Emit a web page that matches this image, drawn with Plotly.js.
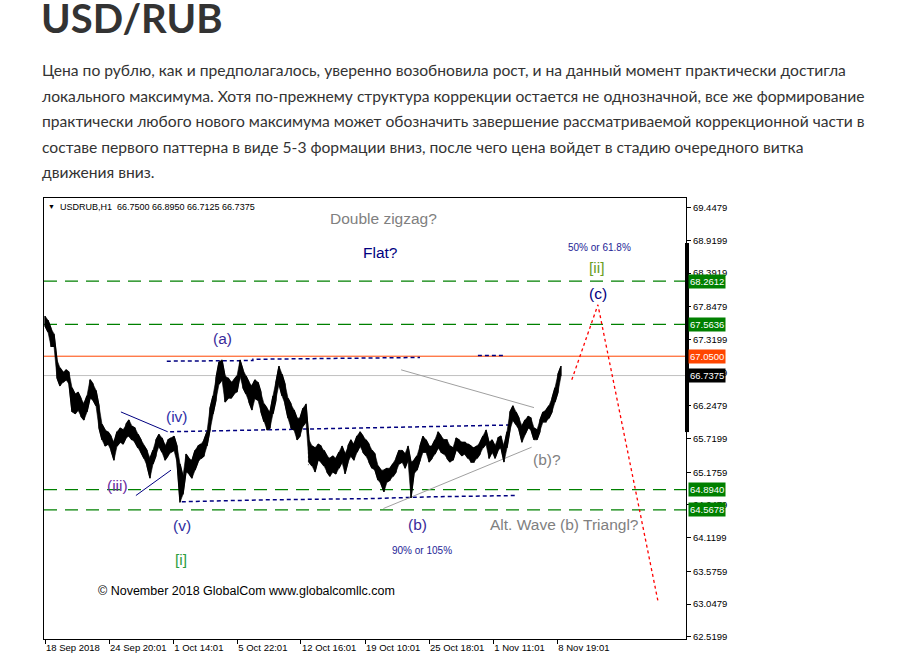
<!DOCTYPE html>
<html>
<head>
<meta charset="utf-8">
<script src="https://cdn.plot.ly/plotly-3.0.1.min.js"></script>
<style>
  html, body { margin:0; padding:0; background:#fff; width:916px; height:659px; overflow:hidden; }
  #chart { position:absolute; left:0; top:0; width:916px; height:659px; }
  #title { position:absolute; left:41px; top:0px; font-family:Lato, 'Open Sans', sans-serif; font-weight:700; font-size:40px; line-height:36px; color:#333; white-space:nowrap; }
  #para { position:absolute; left:42px; top:58px; font-family:Lato, 'Open Sans', sans-serif; font-size:15.65px; line-height:25.5px; color:#333; white-space:nowrap; }
</style>
</head>
<body>
<div id="chart"></div>
<div id="title">USD/RUB</div>
<div id="para">Цена по рублю, как и предполагалось, уверенно возобновила рост, и на данный момент практически достигла<br>локального максимума. Хотя по-прежнему структура коррекции остается не однозначной, все же формирование<br>практически любого нового максимума может обозначить завершение рассматриваемой коррекционной части в<br>составе первого паттерна в виде 5-3 формации вниз, после чего цена войдет в стадию очередного витка<br>движения вниз.</div>
<script>
// ---- data ----
const xTickLabels = ['18 Sep 2018','24 Sep 20:01','1 Oct 14:01','5 Oct 22:01','12 Oct 16:01','19 Oct 10:01','25 Oct 18:01','1 Nov 11:01','8 Nov 19:01'];
const xTickBars = [0, 21.35, 42.77, 64.1, 85.33, 106.67, 128, 149.43, 170.77];
const yTickValues = [69.4479, 68.9199, 68.3919, 67.8479, 67.3199, 66.7919, 66.2479, 65.7199, 65.1759, 64.6479, 64.1199, 63.5759, 63.0479, 62.5199];

const barHigh = [67.70,67.63,67.50,67.41,66.99,66.86,66.79,66.83,66.79,66.54,66.44,66.47,66.37,66.28,66.41,66.67,66.60,66.50,66.25,65.95,
65.86,65.83,65.76,65.66,65.83,65.89,65.86,65.95,66.02,65.92,65.89,65.79,65.70,65.60,65.53,65.40,65.53,65.70,65.79,65.73,
65.60,65.70,65.73,65.76,65.60,65.31,65.11,65.47,65.40,65.37,65.53,65.60,65.63,65.70,65.83,66.21,66.41,66.70,66.96,66.99,
66.73,66.70,66.63,66.67,66.73,66.99,66.83,66.73,66.63,66.57,66.67,66.63,66.47,66.28,66.21,66.15,66.41,66.63,66.89,66.76,
66.60,66.37,66.28,66.18,66.05,66.05,66.21,66.28,65.70,65.60,65.57,65.63,65.60,65.53,65.44,65.40,65.44,65.40,65.50,65.60,
65.47,65.60,65.70,65.63,65.76,65.83,65.76,65.70,65.63,65.53,65.47,65.28,65.21,65.21,65.24,65.24,65.31,65.40,65.53,65.53,
65.47,65.60,65.34,65.37,65.44,65.60,65.76,65.70,65.60,65.60,65.70,65.83,65.76,65.70,65.70,65.60,65.57,65.73,65.70,65.66,
65.66,65.63,65.60,65.57,65.60,65.66,65.76,65.86,65.66,65.70,65.60,65.73,65.76,65.60,65.83,66.15,66.25,66.15,66.05,65.92,
66.02,66.08,66.05,65.89,65.86,66.02,66.15,66.18,66.25,66.37,66.54,66.76,66.89];
const barLow = [67.54,67.44,67.21,67.21,66.70,66.57,66.63,66.67,66.60,66.15,66.12,66.18,66.08,66.02,66.15,66.37,66.34,66.25,65.89,65.70,
65.60,65.63,65.53,65.37,65.60,65.66,65.63,65.73,65.76,65.70,65.66,65.57,65.50,65.40,65.28,65.08,65.31,65.44,65.60,65.50,
65.37,65.44,65.50,65.53,65.34,64.69,64.82,65.18,65.15,65.08,65.21,65.34,65.40,65.44,65.60,65.86,66.12,66.34,66.60,66.67,
66.31,66.37,66.37,66.44,66.47,66.73,66.54,66.44,66.31,66.18,66.37,66.34,66.15,65.99,65.86,65.89,66.12,66.34,66.60,66.41,
66.28,66.05,65.89,65.86,65.70,65.76,65.92,65.99,65.34,65.28,65.18,65.37,65.34,65.28,65.18,65.11,65.18,65.15,65.24,65.34,
65.15,65.34,65.44,65.37,65.50,65.60,65.50,65.44,65.34,65.24,65.21,65.05,64.99,64.86,65.02,65.05,65.11,65.18,65.31,65.34,
65.24,65.37,64.76,65.15,65.21,65.37,65.50,65.50,65.34,65.40,65.47,65.57,65.50,65.47,65.40,65.34,65.37,65.53,65.50,65.44,
65.47,65.40,65.34,65.34,65.40,65.47,65.57,65.63,65.40,65.50,65.40,65.53,65.57,65.34,65.57,65.86,66.02,65.95,65.86,65.66,
65.79,65.89,65.86,65.70,65.70,65.83,65.99,65.99,66.05,66.15,66.31,66.47,66.73];

const projBars = [175.6, 184.3, 204.3];
const projPrice = [66.67, 67.88, 63.10];

const greenLevels = [68.2612, 67.5636, 64.8940, 64.5678];
const resistLevel = 67.0500;
const lastClose = 66.7375;
const header = 'USDRUB,H1  66.7500 66.8950 66.7125 66.7375';

// ---- build price trace ----
const px = [], py = [], bx = [];
for (let i = 0; i < barHigh.length; i++) {
  bx.push(i);
  if (i % 2 === 0) { px.push(i, i); py.push(barHigh[i], barLow[i]); }
  else { px.push(i, i); py.push(barLow[i], barHigh[i]); }
}

const NAVY = '#000080';
const FONT = 'Liberation Sans, Arial, sans-serif';

function seg(xsArr, ysArr, color, width, dash) {
  return { type:'scatter', mode:'lines', x:xsArr, y:ysArr, line:{color:color, width:width, dash:dash||'solid'}, hoverinfo:'skip', showlegend:false };
}

const traces = [
  // navy dotted levels
  seg([40.6, 69.3, 69.3, 125], [66.97, 66.98, 67.00, 67.03], NAVY, 1.5, '4px,3px'),
  seg([144.3, 152.7], [67.06, 67.06], NAVY, 1.5, '4px,3px'),
  seg([41.7, 71, 106.7, 126.7, 156], [65.83, 65.86, 65.89, 65.92, 65.94], NAVY, 1.5, '4px,3px'),
  seg([45.6, 73.3, 108.3, 129.3, 157.3], [64.70, 64.73, 64.75, 64.78, 64.80], NAVY, 1.5, '4px,3px'),
  // navy wave lines
  seg([25.3, 40.9], [66.15, 65.83], NAVY, 1),
  seg([30.3, 42], [64.80, 65.21], NAVY, 1),
  // triangle lines
  seg([118.7, 163], [66.83, 66.22], '#A0A0A0', 1),
  seg([112.8, 162.2], [64.59, 65.58], '#A0A0A0', 1),
  // gray small vertical
  seg([87.8, 87.8], [65.89, 65.29], '#808080', 1, '2px,2px'),
  // price band
  { type:'scatter', mode:'lines', x:bx, y:barLow, line:{color:'#000', width:0.6}, hoverinfo:'skip', showlegend:false },
  { type:'scatter', mode:'lines', x:bx, y:barHigh, fill:'tonexty', fillcolor:'#000', line:{color:'#000', width:0.6}, hoverinfo:'skip', showlegend:false },
  { type:'scatter', mode:'lines', x:px, y:py, line:{color:'#000', width:1.3}, hoverinfo:'skip', showlegend:false },
  // projection
  seg(projBars, projPrice, '#FF0000', 1.3, '3px,3px')
];

const shapes = [];
greenLevels.forEach(v => shapes.push({type:'line', xref:'paper', x0:0, x1:1, yref:'y', y0:v, y1:v, line:{color:'#008000', width:1.2, dash:'13px,8px'}, layer:'below'}));
shapes.push({type:'line', xref:'paper', x0:0, x1:1, yref:'y', y0:resistLevel, y1:resistLevel, line:{color:'#FF4500', width:1}, layer:'below'});
shapes.push({type:'line', xref:'paper', x0:0, x1:1, yref:'y', y0:lastClose, y1:lastClose, line:{color:'#C0C0C0', width:1}, layer:'below'});
shapes.push({type:'rect', xref:'paper', xsizemode:'pixel', xanchor:1, x0:-1, x1:3, yref:'y', y0:65.825, y1:68.878, fillcolor:'#000', line:{width:0}});

const annotations = [];
function lab(x, y, text, color, size) {
  annotations.push({x:x, y:y, xref:'x', yref:'y', text:text, showarrow:false, font:{family:FONT, size:size, color:color}, xanchor:'center', yanchor:'middle'});
}
lab(112.7, 69.28, 'Double zigzag?', '#808080', 15.5);
lab(111.7, 68.72, 'Flat?', NAVY, 15.5);
lab(184.7, 68.81, '50% or 61.8%', '#1E1E96', 10);
lab(184.0, 68.49, '[ii]', '#6B9E1F', 15.5);
lab(184.3, 68.07, '(c)', NAVY, 15.5);
lab(59.0, 67.34, '(a)', '#3A2A9A', 15.5);
lab(44.0, 66.08, '(iv)', '#2E2EA8', 15.5);
lab(24.0, 64.97, '(iii)', '#6A2CA0', 15.5);
lab(45.7, 64.32, '(v)', '#2E2EA0', 15.5);
lab(45.3, 63.76, '[i]', '#2E9E3E', 15.5);
lab(124.3, 64.34, '(b)', '#3A2A9A', 15.5);
lab(125.7, 63.92, '90% or 105%', '#1E1E96', 10);
lab(167.3, 65.39, '(b)?', '#808080', 15.5);
lab(173.3, 64.34, 'Alt. Wave (b) Triangl?', '#808080', 15.5);
lab(67.0, 63.26, '© November 2018 GlobalCom www.globalcomllc.com', '#000', 12.5);

// header
annotations.push({xref:'paper', yref:'paper', x:0, y:1, xanchor:'left', yanchor:'top', xshift:2, yshift:-3, text:'▼', showarrow:false, font:{family:FONT, size:7, color:'#000'}});
annotations.push({xref:'paper', yref:'paper', x:0, y:1, xanchor:'left', yanchor:'top', xshift:14, yshift:-2, text:header, showarrow:false, font:{family:FONT, size:9, color:'#000'}});

// price boxes
function box(v, bg) {
  annotations.push({xref:'paper', yref:'y', x:1, y:v, xanchor:'left', yanchor:'middle', xshift:2, text:v.toFixed(4), showarrow:false,
    bgcolor:bg, borderpad:1, font:{family:FONT, size:9.5, color:'#fff'}});
}
greenLevels.forEach(v => box(v, '#008000'));
box(resistLevel, '#FF4500');
box(lastClose, '#000000');

const layout = {
  width:916, height:659,
  margin:{l:44, r:230, t:198, b:20, pad:0},
  paper_bgcolor:'rgba(0,0,0,0)', plot_bgcolor:'#fff',
  showlegend:false,
  xaxis:{range:[-0.333, 213.667], showgrid:false, zeroline:false, showline:true, mirror:true, linecolor:'#000', linewidth:1,
    ticks:'outside', ticklen:4, tickcolor:'#000', tickvals:xTickBars, ticktext:xTickLabels, ticklabelposition:'outside right',
    tickangle:0, tickfont:{family:FONT, size:9.5, color:'#000'}, fixedrange:true},
  yaxis:{side:'right', range:[62.483, 69.605], showgrid:false, zeroline:false, showline:true, mirror:true, linecolor:'#000', linewidth:1,
    ticks:'outside', ticklen:4, tickcolor:'#000', tickvals:yTickValues, ticktext:yTickValues.map(v => v.toFixed(4)),
    tickfont:{family:FONT, size:9.5, color:'#000'}, fixedrange:true},
  shapes:shapes,
  annotations:annotations
};

Plotly.newPlot('chart', traces, layout, {staticPlot:true, displayModeBar:false});
</script>
</body>
</html>
